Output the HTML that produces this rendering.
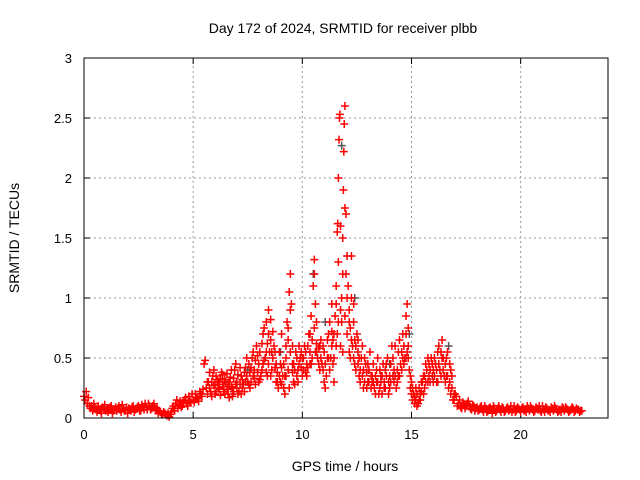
<!DOCTYPE html>
<html><head><meta charset="utf-8"><style>
html,body{margin:0;padding:0;background:#fff;}
svg{display:block;font-family:"Liberation Sans",sans-serif;}
</style></head><body>
<svg id="chart" width="640" height="480" viewBox="0 0 640 480" xmlns="http://www.w3.org/2000/svg">
<rect x="0" y="0" width="640" height="480" fill="#fff"/>
<text x="343" y="33" font-size="14" text-anchor="middle">Day 172 of 2024, SRMTID for receiver plbb</text>
<text x="345" y="471" font-size="14" text-anchor="middle">GPS time / hours</text>
<text transform="translate(19,238) rotate(-90)" font-size="14" text-anchor="middle">SRMTID / TECUs</text>
<g id="grid"></g>
<g id="ticks"></g>
<g id="gray"></g>
<g id="marks"></g>
<rect x="84" y="58" width="524" height="360" fill="none" stroke="#000" stroke-width="1"/>
</svg>
<script>
const xTicks=[0,5,10,15,20];
const yTicks=[0,0.5,1,1.5,2,2.5,3];
const yTickLabels=["0","0.5","1","1.5","2","2.5","3"];
const hours=[0,0.05,0.1,0.15,0.2,0.25,0.3,0.4,0.5,0.6,0.7,0.8,0.9,1.0,1.1,1.2,1.3,1.4,1.5,1.6,1.7,1.8,1.9,2.0,2.1,2.2,2.3,2.4,2.5,2.6,2.7,2.8,2.9,3.0,3.1,3.2,3.3,3.4,3.5,3.6,3.7,3.8,3.9,4.0,4.1,4.2,4.3,4.4,4.5,4.6,4.7,4.8,4.9,5.0,5.1,5.2,5.3,5.4,5.5,5.55,5.6,5.7,5.8,5.9,6.0,6.1,6.2,6.3,6.4,6.5,6.6,6.7,6.8,6.9,7.0,7.1,7.2,7.3,7.4,7.5,7.6,7.7,7.8,7.9,8.0,8.1,8.2,8.3,8.35,8.4,8.45,8.5,8.55,8.6,8.7,8.8,8.9,9.0,9.05,9.1,9.2,9.25,9.3,9.35,9.4,9.45,9.5,9.55,9.6,9.7,9.8,9.9,10.0,10.1,10.2,10.3,10.35,10.4,10.5,10.55,10.6,10.65,10.7,10.8,10.9,11.0,11.1,11.2,11.3,11.35,11.4,11.45,11.5,11.55,11.6,11.62,11.65,11.68,11.7,11.72,11.75,11.8,11.85,11.88,11.9,11.92,11.95,12.0,12.05,12.1,12.15,12.2,12.25,12.3,12.35,12.4,12.5,12.55,12.6,12.7,12.8,12.9,13.0,13.1,13.2,13.3,13.4,13.5,13.6,13.7,13.8,13.9,14.0,14.1,14.2,14.3,14.4,14.5,14.6,14.7,14.75,14.8,14.85,14.9,15.0,15.1,15.2,15.3,15.4,15.5,15.6,15.7,15.8,15.9,16.0,16.1,16.2,16.3,16.4,16.5,16.6,16.7,16.8,16.9,17.0,17.1,17.2,17.3,17.4,17.5,17.6,17.7,17.8,17.9,18.0,18.1,18.2,18.3,18.4,18.5,18.6,18.7,18.8,18.9,19.0,19.1,19.2,19.3,19.4,19.5,19.6,19.7,19.8,19.9,20.0,20.1,20.2,20.3,20.4,20.5,20.6,20.7,20.8,20.9,21.0,21.1,21.2,21.3,21.4,21.5,21.6,21.7,21.8,21.9,22.0,22.1,22.2,22.3,22.4,22.5,22.6,22.7,22.8,
6.0,6.2,6.4,6.6,6.8,7.0,7.2,7.4,7.6,7.8,8.0,8.2,8.4,8.6,8.8,9.0,9.2,9.4,9.6,9.8,10.0,10.2,10.4,10.6,10.8,11.0,11.2,11.4,11.6,11.8,12.0,12.2,12.4,12.6,12.8,13.0,13.2,13.4,13.6,13.8,14.0,14.2,14.4,14.6,14.8,15.0,15.2,15.4,15.6,15.8,16.0,16.2,16.4,16.6,16.8];
const tec=[0.18,0.15,0.22,0.12,0.17,0.1,0.08,0.06,0.09,0.05,0.07,0.04,0.08,0.06,0.05,0.09,0.04,0.07,0.06,0.1,0.05,0.08,0.06,0.04,0.07,0.09,0.05,0.08,0.1,0.06,0.09,0.12,0.07,0.1,0.08,0.12,0.06,0.04,0.05,0.03,0.04,0.02,0.01,0.05,0.1,0.12,0.08,0.14,0.1,0.15,0.12,0.18,0.13,0.15,0.2,0.16,0.22,0.18,0.45,0.48,0.25,0.3,0.22,0.35,0.28,0.32,0.24,0.38,0.26,0.3,0.2,0.34,0.25,0.4,0.3,0.22,0.35,0.28,0.42,0.3,0.38,0.5,0.33,0.6,0.45,0.35,0.7,0.5,0.8,0.62,0.9,0.55,0.82,0.4,0.6,0.3,0.25,0.45,0.7,0.35,0.2,0.5,0.8,0.65,1.05,1.2,0.95,0.45,0.3,0.55,0.4,0.5,0.35,0.6,0.45,0.7,0.55,0.85,1.1,1.32,0.95,0.62,0.5,0.6,0.45,0.55,0.35,0.7,0.5,0.95,0.65,0.3,0.85,1.1,1.55,1.62,2.0,2.32,2.5,2.53,0.6,1.0,1.5,1.9,2.22,2.45,2.6,1.7,1.35,1.1,0.9,0.75,1.35,0.6,0.95,0.45,0.7,0.55,0.35,0.5,0.25,0.45,0.3,0.55,0.35,0.25,0.4,0.2,0.3,0.45,0.25,0.5,0.35,0.6,0.4,0.25,0.55,0.45,0.7,0.5,0.85,0.95,0.6,0.4,0.3,0.2,0.15,0.12,0.2,0.3,0.25,0.4,0.35,0.5,0.3,0.45,0.55,0.4,0.65,0.35,0.5,0.25,0.4,0.15,0.2,0.1,0.15,0.08,0.12,0.1,0.14,0.08,0.11,0.06,0.09,0.07,0.1,0.05,0.08,0.06,0.09,0.04,0.08,0.06,0.1,0.05,0.08,0.06,0.09,0.07,0.05,0.1,0.06,0.08,0.05,0.09,0.07,0.1,0.06,0.08,0.05,0.09,0.07,0.06,0.1,0.05,0.08,0.07,0.09,0.06,0.08,0.05,0.07,0.09,0.06,0.08,0.05,0.07,0.08,0.06,0.07,0.05,0.06,
0.2,0.3,0.22,0.28,0.18,0.25,0.2,0.3,0.25,0.4,0.3,0.45,0.35,0.55,0.45,0.3,0.35,0.25,0.45,0.3,0.5,0.35,0.45,0.55,0.4,0.3,0.5,0.45,0.7,0.8,1.2,0.5,0.65,0.5,0.4,0.45,0.3,0.3,0.35,0.4,0.25,0.3,0.35,0.5,0.55,0.2,0.25,0.15,0.35,0.45,0.4,0.3,0.5,0.35,0.2];
const hoursExt=[0.35,0.45,0.55,0.65,0.75,0.85,0.95,1.05,1.15,1.25,1.35,1.45,1.55,1.65,1.75,1.85,1.95,2.05,2.15,2.25,2.35,2.45,2.55,2.65,2.75,2.85,2.95,3.05,3.15,3.25,3.35,3.45,3.55,3.65,3.75,3.85,3.95,4.05,4.15,4.25,4.35,4.45,4.55,4.65,4.75,4.85,4.95,5.05,5.15,5.25,5.35,5.45,
17.05,17.15,17.25,17.35,17.45,17.55,17.65,17.75,17.85,17.95,18.05,18.15,18.25,18.35,18.45,18.55,18.65,18.75,18.85,18.95,19.05,19.15,19.25,19.35,19.45,19.55,19.65,19.75,19.85,19.95,20.05,20.15,20.25,20.35,20.45,20.55,20.65,20.75,20.85,20.95,21.05,21.15,21.25,21.35,21.45,21.55,21.65,21.75,21.85,21.95,22.05,22.15,22.25,22.35,22.45,22.55,22.65,22.75];
const tecExt=[0.1,0.12,0.07,0.1,0.06,0.09,0.11,0.07,0.08,0.1,0.06,0.09,0.08,0.07,0.11,0.06,0.09,0.08,0.06,0.1,0.07,0.09,0.06,0.11,0.07,0.09,0.12,0.07,0.1,0.09,0.08,0.06,0.03,0.05,0.03,0.04,0.03,0.08,0.06,0.15,0.11,0.09,0.13,0.17,0.1,0.14,0.2,0.13,0.17,0.14,0.2,0.24,
0.18,0.12,0.09,0.13,0.08,0.12,0.1,0.07,0.1,0.08,0.06,0.09,0.07,0.1,0.05,0.08,0.07,0.1,0.05,0.08,0.07,0.09,0.05,0.08,0.06,0.1,0.07,0.05,0.09,0.07,0.08,0.06,0.05,0.08,0.1,0.07,0.06,0.08,0.1,0.05,0.07,0.09,0.06,0.05,0.08,0.1,0.07,0.06,0.05,0.08,0.09,0.07,0.06,0.09,0.05,0.08,0.07,0.06];
const hoursMid=[5.65,5.75,5.85,5.95,6.05,6.15,6.25,6.35,6.45,6.55,6.65,6.75,6.85,6.95,7.05,7.15,7.25,7.35,7.45,7.55,7.65,7.75,7.85,7.95,8.05,8.15,8.25,8.35,8.45,8.55,8.65,8.75,8.85,8.95,9.05,9.15,9.25,9.35,9.45,9.55,9.65,9.75,9.85,9.95,10.05,10.15,10.25,10.35,10.45,10.55,10.65,10.75,10.85,10.95,11.05,11.15,11.25,11.35,11.45,11.55,11.65,11.75,11.85,11.95,12.05,12.15,12.25,12.35,12.45,12.55,12.65,12.75,12.85,12.95,13.05,13.15,13.25,13.35,13.45,13.55,13.65,13.75,13.85,13.95,14.05,14.15,14.25,14.35,14.45,14.55,14.65,14.75,14.85,14.95,15.05,15.15,15.25,15.35,15.45,15.55,15.65,15.75,15.85,15.95,16.05,16.15,16.25,16.35,16.45,16.55,16.65,16.75,16.85,16.95];
const tecMidA=[0.3,0.25,0.3,0.27,0.35,0.25,0.33,0.28,0.32,0.24,0.3,0.26,0.33,0.28,0.36,0.28,0.32,0.38,0.35,0.28,0.42,0.35,0.48,0.38,0.55,0.62,0.48,0.55,0.7,0.65,0.5,0.42,0.38,0.35,0.28,0.45,0.35,0.4,0.9,0.6,0.4,0.5,0.45,0.42,0.5,0.55,0.6,0.7,0.65,1.2,0.8,0.58,0.65,0.4,0.45,0.5,0.4,0.6,0.5,0.95,1.3,1.6,1.2,1.75,1.0,0.8,1.0,0.5,0.6,0.45,0.4,0.6,0.3,0.38,0.4,0.35,0.45,0.35,0.3,0.25,0.35,0.3,0.35,0.3,0.45,0.5,0.35,0.4,0.65,0.55,0.6,0.7,0.75,0.35,0.25,0.18,0.1,0.15,0.22,0.35,0.3,0.5,0.4,0.45,0.35,0.4,0.45,0.55,0.5,0.45,0.55,0.3,0.25,0.2];
const tecMidB=[0.2,0.38,0.18,0.4,0.22,0.3,0.19,0.36,0.2,0.37,0.17,0.4,0.22,0.45,0.2,0.42,0.25,0.22,0.5,0.45,0.3,0.55,0.28,0.52,0.32,0.4,0.75,0.38,0.45,0.35,0.72,0.55,0.3,0.55,0.42,0.25,0.6,0.75,0.55,0.38,0.28,0.35,0.6,0.55,0.4,0.38,0.42,0.45,0.5,0.75,0.55,0.45,0.5,0.6,0.25,0.65,0.8,0.72,0.7,0.6,0.8,0.9,0.55,0.85,0.7,0.55,0.65,0.8,0.4,0.65,0.3,0.35,0.5,0.25,0.3,0.25,0.3,0.2,0.5,0.4,0.2,0.25,0.45,0.2,0.3,0.35,0.6,0.3,0.35,0.4,0.45,0.5,0.5,0.25,0.15,0.12,0.2,0.25,0.3,0.2,0.45,0.3,0.3,0.35,0.5,0.3,0.6,0.35,0.4,0.3,0.35,0.45,0.35,0.15];
const grayHours=[10.5,11.05,11.8,12.4,14.0,14.9,16.7,7.5,9.0];
const grayTec=[1.2,0.8,2.27,1.0,0.45,0.7,0.6,0.4,0.55];
const X0=84,X1=608,Y0=418,Y1=58,XMAX=24,YMAX=3;
function xs(h){return X0+(X1-X0)*h/XMAX;}
function ys(v){return Y0-(Y0-Y1)*v/YMAX;}
const NS="http://www.w3.org/2000/svg";
function mk(tag,attrs,parent){const e=document.createElementNS(NS,tag);for(const k in attrs)e.setAttribute(k,attrs[k]);parent.appendChild(e);return e;}
const grid=document.getElementById('grid'),ticks=document.getElementById('ticks');
xTicks.forEach(t=>{const x=xs(t);
 if(t>0){const g=mk('line',{x1:x,y1:Y0,x2:x,y2:Y1,stroke:'#999','stroke-dasharray':'2,3'},grid);
 
 }
 mk('line',{x1:x,y1:Y0,x2:x,y2:Y0-6,stroke:'#000'},ticks);
 mk('line',{x1:x,y1:Y1,x2:x,y2:Y1+6,stroke:'#000'},ticks);
 const l=mk('text',{x:x,y:Y0+21,'font-size':13,'text-anchor':'middle'},ticks);l.textContent=String(t);
 
 
});
yTicks.forEach((t,i)=>{const y=ys(t);
 if(t>0&&t<YMAX){const g=mk('line',{x1:X0,y1:y,x2:X1,y2:y,stroke:'#999','stroke-dasharray':'2,3'},grid);
 
 }
 mk('line',{x1:X0,y1:y,x2:X0+6,y2:y,stroke:'#000'},ticks);
 mk('line',{x1:X1,y1:y,x2:X1-6,y2:y,stroke:'#000'},ticks);
 const l=mk('text',{x:X0-12,y:y+5,'font-size':13,'text-anchor':'end'},ticks);l.textContent=yTickLabels[i];
 
 
});
function plus(parent,h,v,color){const x=xs(h),y=ys(v);
 return mk('path',{d:`M${x-4},${y}H${x+4}M${x},${y-4}V${y+4}`,stroke:color,'stroke-width':1.5,fill:'none'},parent);}
const gg=document.getElementById('gray');
grayHours.forEach((h,i)=>{const p=plus(gg,h,grayTec[i],'#555');
 
 });
const mg=document.getElementById('marks');
hours.forEach((h,i)=>{const p=plus(mg,h,tec[i],'#f00');
 
 });
hoursExt.forEach((h,i)=>{const p=plus(mg,h,tecExt[i],'#f00');
 
 });
hoursMid.forEach((h,i)=>{const p=plus(mg,h,tecMidA[i],'#f00');
 
 
 const q=plus(mg,h,tecMidB[i],'#f00');
 
 });
</script>
</body></html>
